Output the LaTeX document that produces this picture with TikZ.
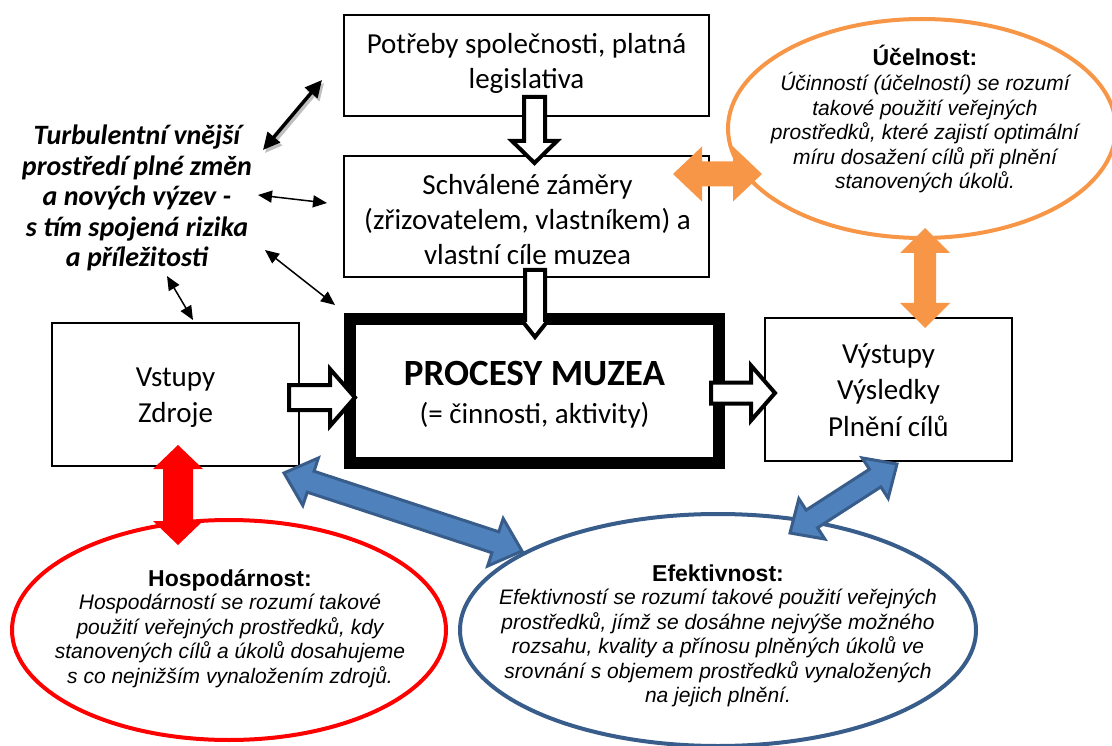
\documentclass[tikz,border=0pt]{standalone}
\usepackage{fontspec}
\usetikzlibrary{calc,arrows.meta,shapes.geometric}
\newfontfamily\carl{Carlito}
\newfontfamily\arial{Liberation Sans}
\definecolor{orng}{HTML}{F79646}
\definecolor{bfill}{HTML}{4F81BD}
\definecolor{bline}{HTML}{385D8A}

% two-headed block arrow: style, tip A, tip B, head length, head half-width, shaft half-width
\newcommand\twoway[6]{%
  \coordinate (tw1) at ($(#2)!#4!(#3)$);
  \coordinate (tw2) at ($(#3)!#4!(#2)$);
  \path[#1] (#2) -- ($(tw1)!#5!90:(#3)$) -- ($(tw1)!#6!90:(#3)$)
    -- ($(tw2)!#6!-90:(#2)$) -- ($(tw2)!#5!-90:(#2)$) -- (#3)
    -- ($(tw2)!#5!90:(#2)$) -- ($(tw2)!#6!90:(#2)$)
    -- ($(tw1)!#6!-90:(#3)$) -- ($(tw1)!#5!-90:(#3)$) -- cycle;}

% one-headed block arrow: style, start, tip, head length, head half-width, shaft half-width
\newcommand\oneway[6]{%
  \coordinate (ow1) at ($(#3)!#4!(#2)$);
  \path[#1] ($(#2)!#6!90:(#3)$) -- ($(ow1)!#6!-90:(#2)$) -- ($(ow1)!#5!-90:(#2)$) -- (#3)
    -- ($(ow1)!#5!90:(#2)$) -- ($(ow1)!#6!90:(#2)$) -- ($(#2)!#6!-90:(#3)$) -- cycle;}

% centred lines of text placed on their baselines: style, name, x, first baseline, step, lines
\newcommand\textlines[6]{%
  \foreach \txtline [count=\lno] in {#6}{%
    \node[#1,anchor=base] (#2\lno) at (#3,{#4+(\lno-1)*#5}) {\txtline};}}

\begin{document}
\begin{tikzpicture}[x=1pt,y=-1pt,
  box/.style={draw,line width=2pt,fill=white,rectangle,inner sep=0pt},
  bigbox/.style={draw,line width=12pt,fill=white,rectangle,inner sep=0pt},
  oval/.style={ellipse,draw,line width=4pt,fill=white,inner sep=0pt},
  hollow/.style={draw,fill=white,line width=4pt,line join=miter},
  bluearrow/.style={fill=bfill,draw=bline,line width=3pt,line join=miter},
  boxtxt/.style={font=\carl\fontsize{29}{35}\selectfont,inner sep=0pt},
  proctitle/.style={font=\carl\bfseries\fontsize{37}{44}\selectfont,inner sep=0pt},
  envtxt/.style={font=\carl\bfseries\itshape\fontsize{28}{31}\selectfont,inner sep=0pt},
  deftitle/.style={font=\arial\bfseries\fontsize{23}{27}\selectfont,inner sep=0pt},
  deftxt/.style={font=\arial\itshape\fontsize{21}{24.5}\selectfont,inner sep=0pt},
  link/.style={line width=1.5pt,<->,>={Triangle[length=14pt,width=12pt]}},
  biglink/.style={line width=3.5pt,<->,>={Triangle[length=17pt,width=16pt]}},
  ]
\useasboundingbox (0,0) rectangle (1112,746);

% boxes
\node[box,minimum width=365pt,minimum height=101pt] (needs) at (526.5,65.5) {};
\node[box,minimum width=365pt,minimum height=121pt] (goals) at (526.5,216.5) {};
\node[box,minimum width=247pt,minimum height=143pt] (inputs) at (175.5,394.5) {};
\node[box,minimum width=247pt,minimum height=143pt] (outputs) at (888.5,389.5) {};
\node[bigbox,minimum width=369.5pt,minimum height=144pt] (proc) at (534.25,391) {};

% ovals
\node[oval,draw=orng,minimum width=388pt,minimum height=219pt] (ucel) at (922,128.5) {};
\node[oval,draw=red,minimum width=434pt,minimum height=220pt] (hosp) at (229,630) {};
\node[oval,draw=bline,minimum width=516pt,minimum height=232pt] (efek) at (718,630) {};

% box texts
\textlines{boxtxt}{needsT}{526.5}{54}{35}{{Potřeby společnosti, platná},{legislativa}}
\textlines{boxtxt}{goalsT}{527.5}{195}{35}{{Schválené záměry},{(zřizovatelem, vlastníkem) a},{vlastní cíle muzea}}
\textlines{boxtxt}{inT}{175.5}{386}{36}{{Vstupy},{Zdroje}}
\textlines{boxtxt}{outT}{888.5}{363}{36.5}{{Výstupy},{Výsledky},{Plnění cílů}}
\node[proctitle,anchor=base] (procT) at (534.5,385) {PROCESY MUZEA};
\node[boxtxt,anchor=base] (procS) at (534.5,423) {(= činnosti, aktivity)};

% environment text
\textlines{envtxt}{env}{137}{145}{30.5}{{Turbulentní vnější},{prostředí plné změn},{a nových výzev -},{s tím spojená rizika},{a příležitosti}}

% definitions
\node[deftitle,anchor=base] (ucelT) at (925,66) {Účelnost:};
\textlines{deftxt}{ucelB}{925}{91}{24.5}{{Účinností (účelností) se rozumí},{takové použití veřejných},{prostředků, které zajistí optimální},{míru dosažení cílů při plnění},{stanovených úkolů.}}
\node[deftitle,anchor=base] (hospT) at (230,586) {Hospodárnost:};
\textlines{deftxt}{hospB}{230}{609.5}{24.5}{{Hospodárností se rozumí takové},{použití veřejných prostředků, kdy},{stanovených cílů a úkolů dosahujeme},{s co nejnižším vynaložením zdrojů.}}
\node[deftitle,anchor=base] (efekT) at (718,581) {Efektivnost:};
\textlines{deftxt}{efekB}{718}{604.5}{24.6}{{Efektivností se rozumí takové použití veřejných},{prostředků, jímž se dosáhne nejvýše možného},{rozsahu, kvality a přínosu plněných úkolů ve},{srovnání s objemem prostředků vynaložených},{na jejich plnění.}}

% hollow flow arrows
\coordinate (f1s) at (534.5,97);  \coordinate (f1t) at (534.5,163);
\coordinate (f2s) at (535,270);   \coordinate (f2t) at (535,337);
\coordinate (f3s) at (289,397.5); \coordinate (f3t) at (355,397.5);
\coordinate (f4s) at (711,393);   \coordinate (f4t) at (775,393);
\oneway{hollow}{f1s}{f1t}{22pt}{22.5pt}{10.5pt}
\oneway{hollow}{f2s}{f2t}{17pt}{13.5pt}{10pt}
\oneway{hollow}{f3s}{f3t}{25pt}{28.5pt}{12.5pt}
\oneway{hollow}{f4s}{f4t}{24pt}{27.5pt}{10.5pt}

% block arrows to the definitions
\coordinate (oh1) at (673,174); \coordinate (oh2) at (762,174);
\coordinate (ov1) at (925,228); \coordinate (ov2) at (925,328);
\coordinate (rv1) at (178,445); \coordinate (rv2) at (178,545);
\coordinate (bb1) at (284,473); \coordinate (bb2) at (522,551);
\coordinate (bc1) at (790,533); \coordinate (bc2) at (897,464);
\twoway{fill=orng}{oh1}{oh2}{29pt}{27.5pt}{12.5pt}
\twoway{fill=orng}{ov1}{ov2}{25pt}{25pt}{11pt}
\twoway{fill=red}{rv1}{rv2}{24pt}{25pt}{15pt}
\twoway{bluearrow}{bb1}{bb2}{28pt}{25pt}{11pt}
\twoway{bluearrow}{bc1}{bc2}{26pt}{24pt}{10.5pt}

% links from the environment text
\coordinate (l1a) at (263,150); \coordinate (l1b) at (322,80);
\coordinate (l2a) at (258,195); \coordinate (l2b) at (327,203);
\coordinate (l3a) at (265,250); \coordinate (l3b) at (335,305);
\coordinate (l4a) at (167,276); \coordinate (l4b) at (193,320);
\draw[biglink,draw=black!25,fill=black!25] ([shift={(2,3)}]l1a) -- ([shift={(2,3)}]l1b);
\draw[biglink] (l1a) -- (l1b);
\draw[link] (l2a) -- (l2b);
\draw[link] (l3a) -- (l3b);
\draw[link] (l4a) -- (l4b);
\end{tikzpicture}
\end{document}
